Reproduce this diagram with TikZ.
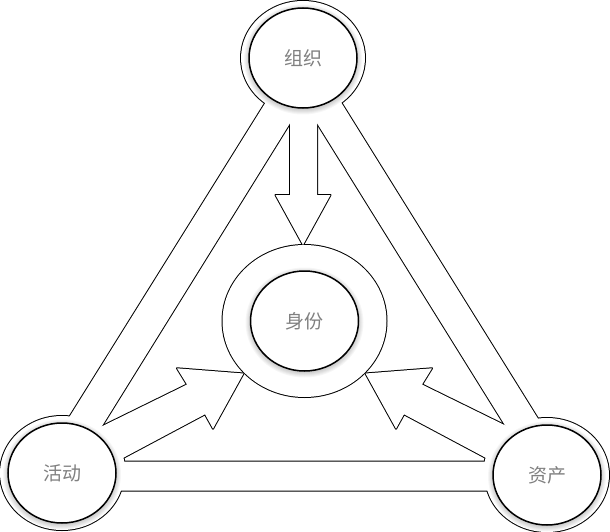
\documentclass[tikz,border=0pt]{standalone}
\usepackage{fontspec}
\newfontfamily\cjk{Noto Sans CJK SC}
\usetikzlibrary{calc}
\begin{document}
\begin{tikzpicture}[
  x=1pt, y=-1pt,
  rim/.style={draw=black, line width=2pt, line join=round},
  blank/.style={fill=white},
  glow/.style={fill=black, fill opacity=0.035},
  core/.style={draw=black, line width=1.5pt, fill=white},
  lbl/.style={font=\cjk\fontsize{19}{19}\selectfont, text=black!50, inner sep=0pt},
]
  \useasboundingbox (0,0) rectangle (610,532);
  % disc centres
  \coordinate (org) at (303,58);
  \coordinate (idn) at (304.5,321);
  \coordinate (act) at (62,473);
  \coordinate (ast) at (547,475);
  % frame, rings and block arrows: stroke wide, then blank out the inside
  \foreach \how in {rim, blank} {
    \path[\how, even odd rule] (303.4,41.8) -- (23.5,490.5) -- (582.7,490.5) -- cycle
      (303.5,101.5) -- (80,461.5) -- (527.5,461.5) -- cycle;
    \path[\how] (org) ellipse [x radius=62, y radius=57]
      (act) ellipse [x radius=62, y radius=57]
      (ast) ellipse [x radius=62, y radius=57]
      (idn) ellipse [x radius=82, y radius=76];
    \path[\how] (290,88) -- (290,195) -- (275.5,195) -- (303,245)
      -- (330.5,195) -- (317,195) -- (317,88) -- cycle;
    \path[\how] (75,439.5) -- (187,384.5) -- (177,368.3) -- (243.5,373.5)
      -- (213,428.7) -- (205,414.3) -- (123.5,457.7) -- (124.5,463) -- (97,472) -- cycle;
    \path[\how] (534,439.5) -- (422,384.5) -- (432,368.3) -- (365.5,373.5)
      -- (396,428.7) -- (404,414.3) -- (485.5,457.7) -- (484.5,463) -- (512,472) -- cycle;
  }
  % soft shadow under the inner discs
  \foreach \c in {org, idn, act, ast}
    \foreach \k in {1,...,6}
      \fill[glow] ($(\c)+(0,1.5)$) ellipse [x radius=53+\k, y radius=49+\k];
  \foreach \c in {org, idn, act, ast}
    \draw[core] (\c) ellipse [x radius=54, y radius=50];
  % labels
  \node[lbl] (orglbl) at (org) {组织};
  \node[lbl] (idnlbl) at (idn) {身份};
  \node[lbl] (actlbl) at (act) {活动};
  \node[lbl] (astlbl) at (ast) {资产};
\end{tikzpicture}
\end{document}
